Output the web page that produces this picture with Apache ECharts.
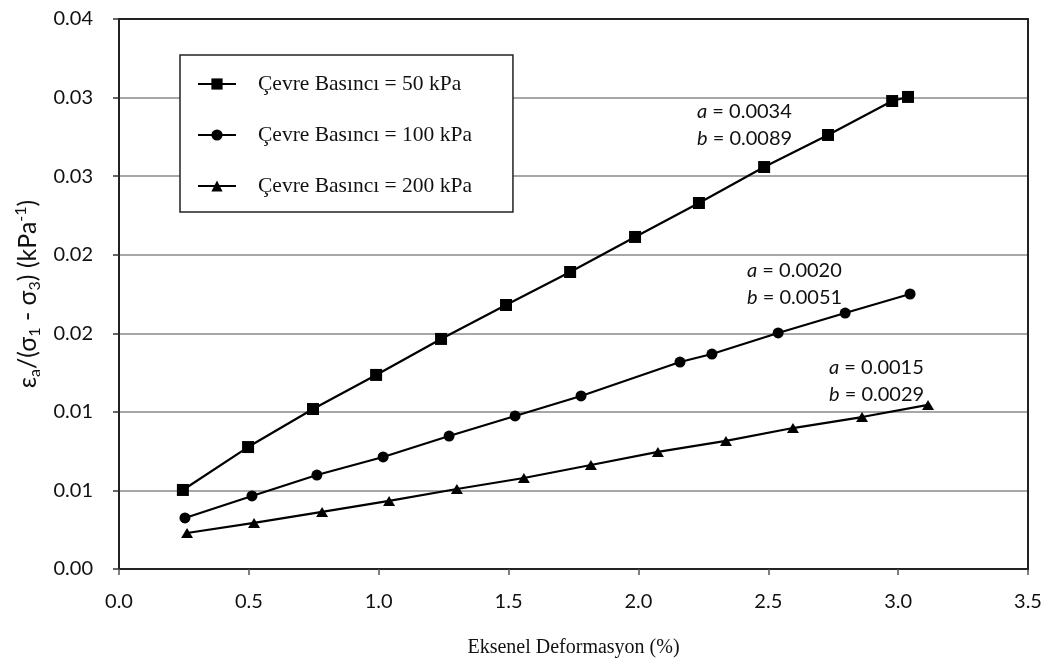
<!DOCTYPE html>
<html>
<head>
<meta charset="utf-8">
<script src="https://cdn.jsdelivr.net/npm/echarts@6/dist/echarts.min.js"></script>
<style>
  html, body { margin: 0; padding: 0; background: #ffffff; }
  #chart { width: 1053px; height: 670px; }
</style>
</head>
<body>
<div id="chart"></div>
<script>
// Confining pressure series: axial strain (%) vs. εa/(σ1 - σ3) (1/kPa)
const seriesNames = ['Çevre Basıncı = 50 kPa', 'Çevre Basıncı = 100 kPa', 'Çevre Basıncı = 200 kPa'];

const strain50 = [0.246, 0.497, 0.747, 0.990, 1.240, 1.490, 1.737, 1.987, 2.233, 2.484, 2.730, 2.977, 3.038];
const ratio50  = [0.00503, 0.00776, 0.01018, 0.01235, 0.01464, 0.01680, 0.01890, 0.02113, 0.02329, 0.02558, 0.02762, 0.02978, 0.03004];

const strain100 = [0.254, 0.512, 0.762, 1.017, 1.271, 1.525, 1.779, 2.160, 2.283, 2.538, 2.796, 3.046];
const ratio100  = [0.00325, 0.00465, 0.00598, 0.00713, 0.00846, 0.00974, 0.01101, 0.01317, 0.01368, 0.01502, 0.01629, 0.01750];

const strain200 = [0.262, 0.520, 0.782, 1.040, 1.301, 1.559, 1.817, 2.075, 2.337, 2.595, 2.861, 3.115];
const ratio200  = [0.00229, 0.00293, 0.00363, 0.00433, 0.00509, 0.00579, 0.00662, 0.00745, 0.00815, 0.00897, 0.00967, 0.01044];

// Hyperbolic fit parameters per pressure
const paramA = ['0.0034', '0.0020', '0.0015'];
const paramB = ['0.0089', '0.0051', '0.0029'];

// Y tick labels as printed (two decimals)
const yTickLabels = ['0.00', '0.01', '0.01', '0.02', '0.02', '0.03', '0.03', '0.04'];
const xTickLabels = ['0.0', '0.5', '1.0', '1.5', '2.0', '2.5', '3.0', '3.5'];

const xAxisName = 'Eksenel Deformasyon (%)';

const zip = (xs, ys) => xs.map((x, i) => [x, ys[i]]);

const sansFont = 'Lato';
const serifFont = 'Liberation Serif';
const ink = '#111111';

const chart = echarts.init(document.getElementById('chart'), null, { renderer: 'canvas' });

function lineSeries(name, data, symbol, size) {
  return {
    name: name,
    type: 'line',
    data: data,
    symbol: symbol,
    symbolSize: size,
    showAllSymbol: true,
    lineStyle: { color: '#000', width: 2.2 },
    itemStyle: { color: '#000', borderWidth: 0 },
    emphasis: { disabled: true },
    z: 3
  };
}

// Fit-parameter annotation blocks placed beside each curve
const annotationSpots = [
  { left: 697, top: 98 },
  { left: 747, top: 257 },
  { left: 829, top: 354 }
];

const annotations = paramA.map((a, i) => ({
  type: 'text',
  left: annotationSpots[i].left,
  top: annotationSpots[i].top,
  z: 10,
  style: {
    text: '{i|a} = ' + a + '\n{i|b} = ' + paramB[i],
    font: '20px ' + sansFont,
    fill: ink,
    lineHeight: 27,
    rich: {
      i: { font: 'italic 20px ' + sansFont, fill: ink, lineHeight: 27 }
    }
  }
}));

const yNameFont = { fontFamily: sansFont, color: ink };

chart.setOption({
  animation: false,
  backgroundColor: '#ffffff',
  grid: { left: 119, right: 25, top: 19, bottom: 101, containLabel: false },
  legend: {
    orient: 'vertical',
    left: 180,
    top: 55,
    padding: [18, 41, 15, 17],
    itemWidth: 38,
    itemHeight: 14,
    itemGap: 29,
    backgroundColor: '#ffffff',
    borderColor: '#222222',
    borderWidth: 1.5,
    borderRadius: 0,
    selectedMode: false,
    textStyle: {
      fontFamily: serifFont,
      fontSize: 21.5,
      color: ink,
      lineHeight: 20,
      padding: [0, 0, 0, 17]
    },
    data: seriesNames
  },
  xAxis: [
    {
      type: 'value',
      min: 0,
      max: 3.5,
      interval: 0.5,
      axisLine: { show: true, onZero: false, lineStyle: { color: '#222', width: 2 } },
      axisTick: { show: true, inside: false, length: 6, lineStyle: { color: '#555', width: 1.5 } },
      axisLabel: {
        formatter: (v) => xTickLabels[Math.round(v / 0.5)],
        fontFamily: sansFont,
        fontSize: 20,
        color: ink,
        margin: 23
      },
      splitLine: { show: false },
      name: xAxisName,
      nameLocation: 'middle',
      nameGap: 69,
      nameTextStyle: { fontFamily: serifFont, fontSize: 20, color: ink }
    },
    {
      type: 'value',
      position: 'top',
      min: 0,
      max: 3.5,
      interval: 0.5,
      z: 5,
      axisLine: { show: true, onZero: false, lineStyle: { color: '#222', width: 2 } },
      axisTick: { show: false },
      axisLabel: { show: false },
      splitLine: { show: false }
    }
  ],
  yAxis: [
    {
      type: 'value',
      min: 0,
      max: 0.035,
      interval: 0.005,
      axisLine: { show: true, onZero: false, lineStyle: { color: '#222', width: 2 } },
      axisTick: { show: true, inside: false, length: 6, lineStyle: { color: '#333', width: 1.5 } },
      axisLabel: {
        formatter: (v) => yTickLabels[Math.round(v / 0.005)],
        fontFamily: sansFont,
        fontSize: 20,
        color: ink,
        margin: 26
      },
      splitLine: { show: true, lineStyle: { color: '#8a8a8a', width: 1.5 } },
      name: '{t|ε}{s|a}{t|/(σ}{s|1}{t| - σ}{s|3}{t|) (kPa}{p|-1}{t|)}',
      nameLocation: 'middle',
      nameRotate: 90,
      nameGap: 68,
      nameTextStyle: {
        fontFamily: sansFont,
        fontSize: 25,
        color: ink,
        rich: {
          t: Object.assign({ fontSize: 25, lineHeight: 30 }, yNameFont),
          s: Object.assign({ fontSize: 16, lineHeight: 16, verticalAlign: 'bottom' }, yNameFont),
          p: Object.assign({ fontSize: 16, lineHeight: 16, verticalAlign: 'top' }, yNameFont)
        }
      }
    },
    {
      type: 'value',
      position: 'right',
      min: 0,
      max: 0.035,
      interval: 0.005,
      z: 5,
      axisLine: { show: true, onZero: false, lineStyle: { color: '#222', width: 2 } },
      axisTick: { show: false },
      axisLabel: { show: false },
      splitLine: { show: false }
    }
  ],
  series: [
    lineSeries(seriesNames[0], zip(strain50, ratio50), 'rect', 12),
    lineSeries(seriesNames[1], zip(strain100, ratio100), 'circle', 11),
    lineSeries(seriesNames[2], zip(strain200, ratio200), 'triangle', [12, 10])
  ],
  graphic: annotations
});
</script>
</body>
</html>
